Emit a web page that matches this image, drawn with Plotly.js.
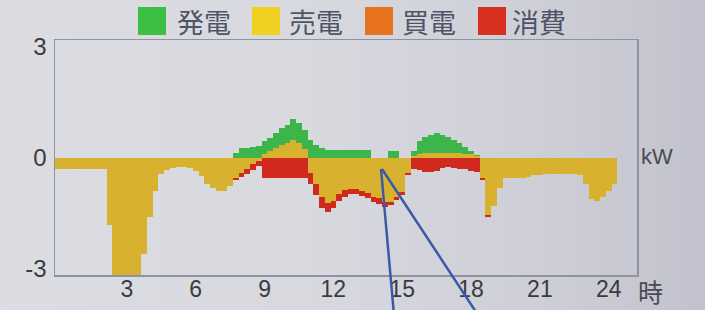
<!DOCTYPE html>
<html>
<head>
<meta charset="utf-8">
<script src="https://cdn.plot.ly/plotly-3.0.1.min.js"></script>
<style>
html,body{margin:0;padding:0;}
body{width:705px;height:310px;overflow:hidden;
background:linear-gradient(90deg,#dcdde2 0%,#d8d9df 45%,#cdcdd6 80%,#c2c2ce 100%);}
#chart{width:705px;height:310px;}
</style>
</head>
<body>
<div id="chart"></div>
<script>
// time of day (hours), 15-minute steps
const hours = [
 0,0.25,0.5,0.75, 1,1.25,1.5,1.75, 2,2.25,2.5,2.75, 3,3.25,3.5,3.75,
 4,4.25,4.5,4.75, 5,5.25,5.5,5.75, 6,6.25,6.5,6.75, 7,7.25,7.5,7.75,
 8,8.25,8.5,8.75, 9,9.25,9.5,9.75, 10,10.25,10.5,10.75, 11,11.25,11.5,11.75,
 12,12.25,12.5,12.75, 13,13.25,13.5,13.75, 14,14.25,14.5,14.75, 15,15.25,15.5,15.75,
 16,16.25,16.5,16.75, 17,17.25,17.5,17.75, 18,18.25,18.5,18.75, 19,19.25,19.5,19.75,
 20,20.25,20.5,20.75, 21,21.25,21.5,21.75, 22,22.25,22.5,22.75, 23,23.25,23.5,23.75,
 24,24.25
];
// 売電 (kW)
const sell = [
 -0.3,-0.3,-0.3,-0.3, -0.3,-0.3,-0.3,-0.3, -0.3,-1.8,-3.3,-3.3, -3.3,-3.3,-3.3,-2.6,
 -1.6,-0.9,-0.42,-0.32, -0.27,-0.25,-0.25,-0.28, -0.35,-0.48,-0.7,-0.82, -0.9,-0.88,-0.75,-0.53,
 -0.4,-0.3,-0.17,-0.07, 0.1,0.2,0.28,0.35, 0.42,0.48,0.4,0.25, -0.4,-0.7,-1.06,-1.22,
 -1.16,-0.97,-0.86,-0.83, -0.84,-0.89,-0.95,-1.06, -1.09,-1.19,-1.2,-1.06, -0.92,-0.4,0.05,0.1,
 0.15,0.15,0.15,0.15, 0.15,0.15,0.15,0.12, 0.1,0.05,-0.55,-1.55, -1.3,-0.8,-0.53,-0.55,
 -0.55,-0.55,-0.52,-0.45, -0.45,-0.42,-0.42,-0.42, -0.42,-0.42,-0.42,-0.45, -0.7,-1.1,-1.15,-1.05,
 -0.9,-0.7
];
// 発電 (kW)
const generation = [
 0,0,0,0, 0,0,0,0, 0,0,0,0, 0,0,0,0,
 0,0,0,0, 0,0,0,0, 0,0,0,0, 0,0,0,0.15,
 0.27,0.27,0.3,0.33, 0.35,0.35,0.4,0.45, 0.48,0.57,0.55,0.5, 0.5,0.35,0.27,0.22,
 0.22,0.22,0.22,0.22, 0.22,0.22,0.22,0, 0,0,0.2,0.2, 0,0,0.15,0.35,
 0.43,0.48,0.52,0.48, 0.43,0.35,0.27,0.18, 0.1,0.03,0,0, 0,0,0,0,
 0,0,0,0, 0,0,0,0, 0,0,0,0, 0,0,0,0,
 0,0
];
// 消費 (kW)
const consumption = [
 0,0,0,0, 0,0,0,0, 0,0,0,0, 0,0,0,0,
 0,0,0,0, 0,0,0,0, 0,0,0,0, 0,0,0,-0.05,
 -0.1,-0.12,-0.15,-0.15, -0.55,-0.55,-0.55,-0.55, -0.55,-0.55,-0.55,-0.55, -0.3,-0.3,-0.3,-0.25,
 -0.2,-0.2,-0.2,-0.15, -0.14,-0.14,-0.14,-0.14, -0.14,-0.12,-0.08,-0.08, -0.08,-0.06,-0.3,-0.32,
 -0.38,-0.38,-0.35,-0.28, -0.25,-0.27,-0.3,-0.3, -0.35,-0.38,-0.05,-0.05, 0,0,0,0,
 0,0,0,0, 0,0,0,0, 0,0,0,0, 0,0,0,0,
 0,0
];
const legendLabels = ['発電','売電','買電','消費'];
const legendColors = ['#3cc043','#f0d020','#e8731f','#d8301f'];
const xTicks = [3,6,9,12,15,18,21,24];
const yTicks = [-3,0,3];
const yTickText = ['-3','0','3'];

const barCommon = {type:'bar', x:hours, width:0.25, showlegend:false, hoverinfo:'skip'};
const traces = [
  Object.assign({}, barCommon, {name:legendLabels[1], y:sell, marker:{color:'#d8b22e', line:{width:0}}}),
  Object.assign({}, barCommon, {name:legendLabels[0], y:generation, marker:{color:'#3cb54a', line:{width:0}}}),
  Object.assign({}, barCommon, {name:legendLabels[3], y:consumption, marker:{color:'#d02a1f', line:{width:0}}})
];

// paper coordinates: plot area l=55, r=637, t=40, b=275
const L=55, R=637, T=40, B=275, W=R-L, H=B-T;
const px = v => (v-L)/W, py = v => (B-v)/H;
const swX = [138,252,365,478];
const txX = [175,287,400,510];
const shapes = [];
const annotations = [];
legendLabels.forEach((lab,i)=>{
  shapes.push({type:'rect', xref:'paper', yref:'paper', x0:px(swX[i]), x1:px(swX[i]+28),
    y0:py(35), y1:py(7), fillcolor:legendColors[i], line:{width:0}, layer:'above'});
  annotations.push({xref:'paper', yref:'paper', x:px(txX[i]), y:py(21), xanchor:'left', yanchor:'middle',
    text:lab, showarrow:false, font:{family:'Noto Sans CJK JP', size:27, color:'#4f5468'}});
});
annotations.push({xref:'paper', yref:'paper', x:px(639), y:py(156), xanchor:'left', yanchor:'middle',
  text:'kW', showarrow:false, font:{family:'Liberation Sans Narrow, Liberation Sans, sans-serif', size:22, color:'#4a4a52'}});
annotations.push({xref:'paper', yref:'paper', x:px(636), y:py(291), xanchor:'left', yanchor:'middle',
  text:'時', showarrow:false, font:{family:'Noto Sans CJK JP', size:25, color:'#4a4a52'}});
// blue pointer lines drawn on the photo
shapes.push({type:'line', xref:'paper', yref:'paper', x0:px(381), y0:py(169), x1:px(394), y1:py(315),
  line:{color:'#3a5aa8', width:2.5}, layer:'above'});
shapes.push({type:'line', xref:'paper', yref:'paper', x0:px(382), y0:py(169), x1:px(478), y1:py(315),
  line:{color:'#3a5aa8', width:2.5}, layer:'above'});

const layout = {
  width:705, height:310,
  margin:{l:L, r:705-R, t:T, b:310-B, pad:0},
  paper_bgcolor:'rgba(0,0,0,0)', plot_bgcolor:'rgba(0,0,0,0)',
  barmode:'relative', bargap:0,
  font:{family:'Liberation Sans, Arial, sans-serif', size:24, color:'#3a3a40'},
  xaxis:{range:[-0.13,25.23], tickvals:xTicks, ticktext:xTicks.map(String), showgrid:false, zeroline:false,
    showline:true, mirror:true, linecolor:'#8e92a2', linewidth:1.5, ticks:'', ticklen:0,
    ticklabelstandoff:-7, tickfont:{size:23, color:'#3a3a40'}},
  yaxis:{range:[-3.16,3.19], tickvals:yTicks, ticktext:yTickText, showgrid:false, zeroline:false,
    showline:true, mirror:true, linecolor:'#8e92a2', linewidth:1.5, ticks:'outside', ticklen:2,
    tickcolor:'rgba(0,0,0,0)', tickfont:{size:24, color:'#3a3a40'}},
  shapes:shapes, annotations:annotations, showlegend:false
};
Plotly.newPlot('chart', traces, layout, {staticPlot:true, displayModeBar:false});
</script>
</body>
</html>
